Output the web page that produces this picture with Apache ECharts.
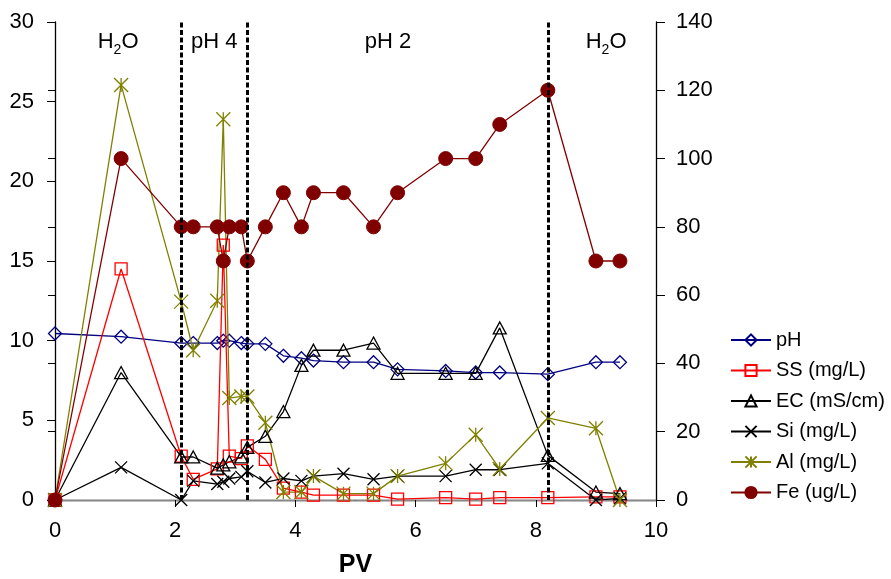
<!DOCTYPE html>
<html>
<head>
<meta charset="utf-8">
<script src="https://cdn.jsdelivr.net/npm/echarts@6/dist/echarts.min.js"></script>
<style>
  html, body { margin: 0; padding: 0; background: #fff; }
  #chart { width: 891px; height: 579px; }
</style>
</head>
<body>
<div id="chart"></div>
<script>
// pore volumes (x) shared by every series
const pv = [0, 1.1, 2.1, 2.3, 2.7, 2.8, 2.9, 3.1, 3.2, 3.5, 3.8, 4.1, 4.3, 4.8, 5.3, 5.7, 6.5, 7.0, 7.4, 8.2, 9.0, 9.4];

const ph = [10.45, 10.25, 9.85, 9.85, 9.85, 10.0, 10.0, 9.85, 9.8, 9.8, 9.05, 8.9, 8.75, 8.65, 8.65, 8.2, 8.1, 8.0, 8.0, 7.9, 8.65, 8.65];
const ss = [0, 14.5, 2.75, 1.3, 1.95, 16.0, 2.75, 2.6, 3.4, 2.55, 0.75, 0.5, 0.3, 0.3, 0.3, 0.05, 0.15, 0.05, 0.15, 0.15, 0.2, 0.2];
const ec = [0, 8.0, 2.7, 2.7, 2.0, 2.2, 2.4, 2.7, 3.3, 4.0, 5.55, 8.45, 9.4, 9.4, 9.85, 7.95, 7.95, 7.95, 10.8, 2.8, 0.5, 0.4];
const si = [0, 2.05, 0, 1.2, 1.0, 1.15, 1.35, 1.45, 1.8, 1.1, 1.35, 1.2, 1.5, 1.65, 1.3, 1.5, 1.5, 1.9, 1.9, 2.3, 0, 0.1];
const al = [0, 26.05, 12.45, 9.4, 12.5, 23.9, 6.4, 6.5, 6.5, 4.85, 0.5, 0.5, 1.5, 0.4, 0.4, 1.5, 2.3, 4.1, 1.95, 5.15, 4.5, 0];
const fe = [0, 100, 80, 80, 80, 70, 80, 80, 70, 80, 90, 80, 90, 90, 80, 90, 100, 100, 110, 120, 70, 70];

// stage boundaries and labels
const stageLines = [2.1, 3.2, 8.2];
const stageLabels = ['H2O', 'pH 4', 'pH 2', 'H2O'];
const stageCenters = [1.05, 2.65, 5.54, 9.17];

const leftTicks = { min: 0, max: 30, interval: 5 };
const rightTicks = { min: 0, max: 140, interval: 20 };

const font = 'Liberation Sans, Arial, sans-serif';
const crossPath = 'path://M0,0L10,10M10,0L0,10';
const starPath = 'path://M0,0L10,10M10,0L0,10M5,0L5,10';

const pairs = (ys) => pv.map((x, i) => [x, ys[i]]);

const makeSeries = (name, ys, color, symbol, size, opts) => Object.assign({
  name: name,
  type: 'line',
  data: pairs(ys),
  symbol: symbol,
  symbolSize: size,
  showAllSymbol: true,
  lineStyle: { color: color, width: 1.3 },
  itemStyle: { color: 'rgba(0,0,0,0)', borderColor: color, borderWidth: 1.3 },
  emphasis: { disabled: true },
  animation: false
}, opts || {});

const chart = echarts.init(document.getElementById('chart'));

const option = {
  animation: false,
  textStyle: { fontFamily: font, color: '#000' },
  grid: { left: 55, right: 235, top: 22, bottom: 79, containLabel: false, outerBoundsMode: 'none' },
  legend: {
    orient: 'vertical',
    left: 730,
    top: 330,
    padding: 0,
    itemWidth: 40,
    itemHeight: 14,
    itemGap: 10.5,
    textStyle: { fontFamily: font, fontSize: 20, color: '#000', lineHeight: 20 },
    data: ['pH', 'SS (mg/L)', 'EC (mS/cm)', 'Si (mg/L)', 'Al (mg/L)', 'Fe (ug/L)']
  },
  xAxis: [
    {
      type: 'value', min: 0, max: 10, interval: 2,
      name: 'PV', nameLocation: 'middle', nameGap: 53,
      nameTextStyle: { fontFamily: font, fontSize: 25, fontWeight: 'bold', color: '#000' },
      axisLine: { onZero: false, lineStyle: { color: '#000', width: 1.3 } },
      axisTick: { show: true, length: 7, lineStyle: { color: '#000' } },
      axisLabel: { fontSize: 22, margin: 20, color: '#000', fontFamily: font },
      splitLine: { show: false }
    },
    {
      type: 'value', min: 0, max: 10, position: 'top',
      axisLine: { show: true, lineStyle: { color: '#888', width: 1 } },
      axisTick: { show: false }, axisLabel: { show: false }, splitLine: { show: false }
    }
  ],
  yAxis: [
    {
      type: 'value', min: leftTicks.min, max: leftTicks.max, interval: leftTicks.interval,
      position: 'left',
      axisLine: { show: true, onZero: false, lineStyle: { color: '#000', width: 1.3 } },
      axisTick: { show: true, length: 8, lineStyle: { color: '#000' } },
      axisLabel: { fontSize: 22, margin: 21, color: '#000', fontFamily: font },
      splitLine: { show: false }
    },
    {
      type: 'value', min: rightTicks.min, max: rightTicks.max, interval: rightTicks.interval,
      position: 'right',
      axisLine: { show: true, onZero: false, lineStyle: { color: '#000', width: 1.3 } },
      axisTick: { show: true, length: 9, lineStyle: { color: '#000' } },
      axisLabel: { fontSize: 22, margin: 20, color: '#000', fontFamily: font },
      splitLine: { show: false }
    },
    {
      // inner half of the crossing ticks on the right axis
      type: 'value', min: rightTicks.min, max: rightTicks.max, interval: rightTicks.interval,
      position: 'right',
      axisLine: { show: false },
      axisTick: { show: true, inside: true, length: 7, lineStyle: { color: '#000' } },
      axisLabel: { show: false },
      splitLine: { show: false }
    }
  ],
  series: [
    makeSeries('pH', ph, '#000080', 'diamond', 13, {
      z: 2,
      markLine: {
        silent: true,
        symbol: 'none',
        label: { show: false },
        lineStyle: { color: '#000', type: [5, 2.5], width: 3 },
        data: stageLines.map(v => ({ xAxis: v }))
      }
    }),
    makeSeries('SS (mg/L)', ss, '#ff0000', 'rect', 12, { z: 3 }),
    makeSeries('EC (mS/cm)', ec, '#000000', 'triangle', [13, 12], { z: 3 }),
    makeSeries('Si (mg/L)', si, '#000000', crossPath, 12, { z: 3 }),
    makeSeries('Al (mg/L)', al, '#808000', starPath, 14, { z: 3 }),
    makeSeries('Fe (ug/L)', fe, '#800000', 'circle', 14, {
      yAxisIndex: 1, z: 4,
      itemStyle: { color: '#800000', borderColor: '#800000', borderWidth: 1 }
    })
  ]
};

chart.setOption(option);

// stage labels across the top, placed through the x scale
const topY = 42;
const graphics = stageLabels.map((lab, i) => {
  const x = chart.convertToPixel({ xAxisIndex: 0 }, stageCenters[i]);
  const isWater = lab === 'H2O';
  return {
    type: 'text',
    x: x,
    y: topY,
    style: {
      text: isWater ? '{n|H}{s|2}{n|O}' : '{n|' + lab + '}',
      align: 'center',
      verticalAlign: 'middle',
      fill: '#000',
      rich: {
        n: { fontSize: 22, fontFamily: font, lineHeight: 30, verticalAlign: 'middle', fill: '#000' },
        s: { fontSize: 14, fontFamily: font, lineHeight: 17, verticalAlign: 'bottom', fill: '#000' }
      }
    },
    silent: true
  };
});
chart.setOption({ graphic: graphics });
</script>
</body>
</html>
